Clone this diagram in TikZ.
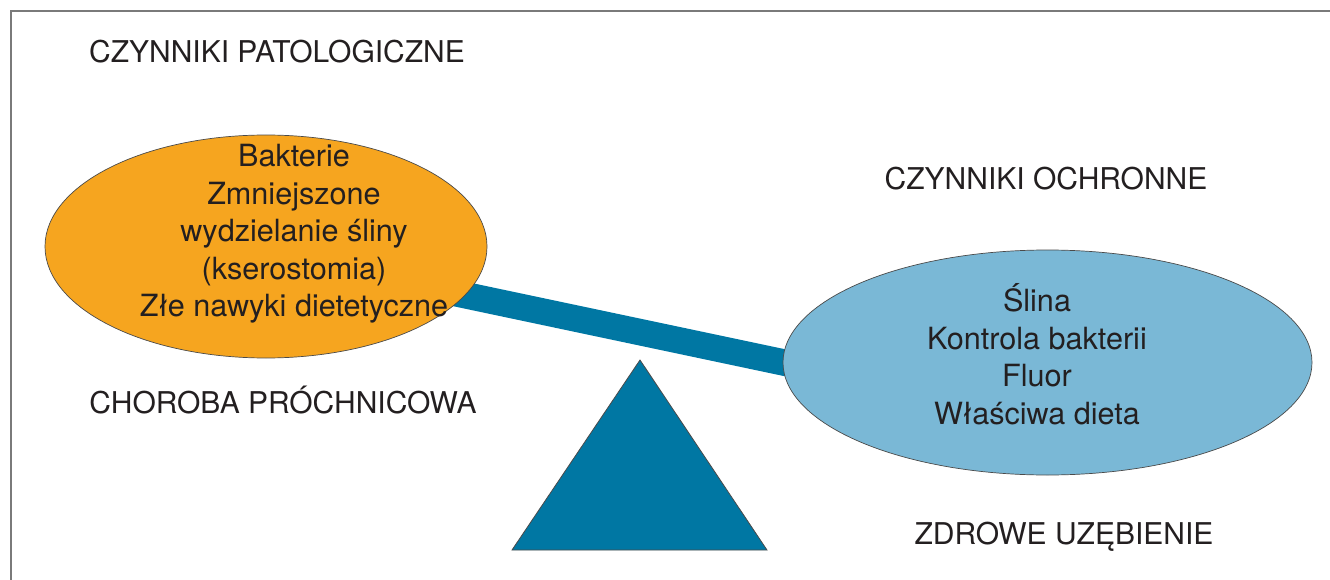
\documentclass[tikz,border=0pt]{standalone}
\usepackage{fontspec}
\setmainfont{TeX Gyre Heros}
\usetikzlibrary{shapes.geometric}
\definecolor{txt}{HTML}{231F20}
\definecolor{beamcol}{HTML}{0077A3}
\definecolor{orangefill}{HTML}{F6A51F}
\definecolor{bluefill}{HTML}{7AB8D6}
\definecolor{framecol}{HTML}{7A7A7A}
\definecolor{edgecol}{HTML}{4A4A4A}
\tikzset{
  heading/.style={anchor=base, text=txt, inner sep=0pt, font=\fontsize{30}{36}\selectfont},
  body/.style={align=center, text=txt, inner sep=0pt, font=\fontsize{30.6}{37.5}\selectfont},
  blob/.style={ellipse, draw=edgecol, line width=0.7pt, inner sep=0pt},
}
\begin{document}
\begin{tikzpicture}[x=1pt,y=-1pt]
\useasboundingbox (0,0) rectangle (1330,580);
% frame
\draw[framecol, line width=1.6pt] (11,580) -- (11,11) -- (1330,11);
% beam and fulcrum
\coordinate (beamL) at (400,281.4);
\coordinate (beamR) at (850,376.5);
\draw[beamcol, line width=26.5pt] (beamL) -- (beamR);
\filldraw[fill=beamcol, draw=edgecol, line width=0.8pt, line join=miter] (640,360) -- (767,550) -- (512,550) -- cycle;
% ellipses
\node[blob, fill=orangefill, minimum width=442pt, minimum height=223pt] (bad) at (266,246.5) {};
\node[blob, fill=bluefill, minimum width=529pt, minimum height=225pt] (good) at (1047.5,362.5) {};
% texts
\node[body] (badtxt) at (294,234) {Bakterie\\Zmniejszone\\wydzielanie śliny\\(kserostomia)\\Złe nawyki dietetyczne};
\node[body] (goodtxt) at (1037,354) {Ślina\\Kontrola bakterii\\Fluor\\Właściwa dieta};
\node[heading] (h1) at (277,62.3) {CZYNNIKI PATOLOGICZNE};
\node[heading] (h2) at (1046,190) {CZYNNIKI OCHRONNE};
\node[heading] (h3) at (283,413) {CHOROBA PRÓCHNICOWA};
\node[heading] (h4) at (1064,544) {ZDROWE UZĘBIENIE};
\end{tikzpicture}
\end{document}
